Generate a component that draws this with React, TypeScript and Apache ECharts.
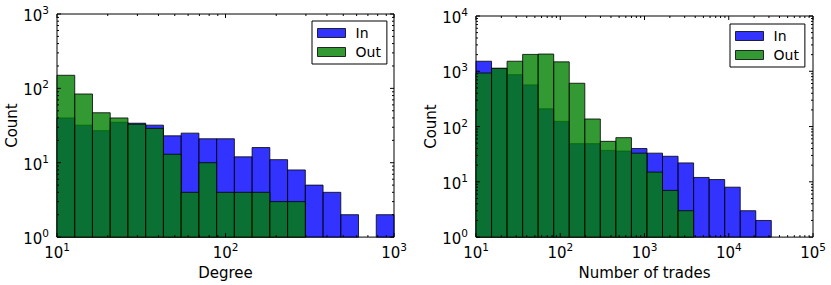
import React, { useEffect, useRef } from 'react';
import * as echarts from 'echarts';

const FONT = 'DejaVu Sans';

// Histogram counts (19 log-spaced bins each)
const degreeIn = [40, 32, 27, 35, 34, 32, 23, 25, 21, 21, 12, 16, 11, 8, 5, 4, 2, 0, 2];
const degreeOut = [150, 84, 47, 40, 33, 29, 13, 4, 10, 4, 4, 4, 3, 3, 0, 0, 0, 0, 0];
const tradesIn = [1520, 1130, 866, 567, 209, 124, 49, 49, 37, 36, 40, 33, 29, 22, 12, 11, 8, 3, 2];
const tradesOut = [930, 1130, 1520, 2020, 2050, 1480, 607, 137, 54, 63, 33, 15, 7, 3, 0, 0, 0, 0, 0];

const degreeBinRange = [10, 1000];
const tradesBinRange = [10, 32000];
const BIN_COUNT = 19;

const degreeXDecades = [10, 100, 1000];
const degreeYDecades = [1, 10, 100, 1000];
const tradesXDecades = [10, 100, 1000, 10000, 100000];
const tradesYDecades = [1, 10, 100, 1000, 10000];

const seriesNames = ['In', 'Out'];
const xTitles = ['Degree', 'Number of trades'];
const yTitle = 'Count';

const BLUE = 'rgba(0,0,255,0.8)';
const GREEN = 'rgba(0,128,0,0.8)';
const EDGE = 'rgba(0,0,0,0.8)';

function logEdges(lo: number, hi: number, n: number) {
  const a = Math.log10(lo), b = Math.log10(hi);
  const e: number[] = [];
  for (let i = 0; i <= n; i++) e.push(Math.pow(10, a + ((b - a) * i) / n));
  return e;
}

function histData(counts: number[], edges: number[]) {
  return counts
    .map((c, i) => [edges[i], edges[i + 1], c])
    .filter((d) => d[2] > 0);
}

function minorTicks(decades: number[]) {
  const out: number[] = [];
  for (let i = 0; i < decades.length - 1; i++) {
    for (let d = 2; d <= 9; d++) out.push(decades[i] * d);
  }
  return out;
}

function tickData(xDec: number[], yDec: number[]) {
  const xMin = xDec[0], yMin = yDec[0];
  const data: number[][] = [];
  xDec.forEach((v) => data.push([v, yMin, 0]));
  minorTicks(xDec).forEach((v) => data.push([v, yMin, 1]));
  yDec.forEach((v) => data.push([xMin, v, 2]));
  minorTicks(yDec).forEach((v) => data.push([xMin, v, 3]));
  return data;
}

const barRender = (fill: string) => (params: any, api: any) => {
  const a = api.coord([api.value(0), api.value(2)]);
  const b = api.coord([api.value(1), 1]);
  return {
    type: 'rect',
    shape: { x: a[0], y: a[1], width: b[0] - a[0], height: b[1] - a[1] },
    style: { fill, stroke: EDGE, lineWidth: 1 },
  };
};

const tickRender = (params: any, api: any) => {
  const cs = params.coordSys;
  const kind = api.value(2);
  const p = api.coord([api.value(0), api.value(1)]);
  const style = { stroke: '#000', lineWidth: 1 };
  const len = kind === 0 || kind === 2 ? 4 : 2;
  if (kind < 2) {
    const bottom = cs.y + cs.height;
    return {
      type: 'group',
      children: [
        { type: 'line', shape: { x1: p[0], y1: bottom, x2: p[0], y2: bottom - len }, style },
        { type: 'line', shape: { x1: p[0], y1: cs.y, x2: p[0], y2: cs.y + len }, style },
      ],
    };
  }
  const right = cs.x + cs.width;
  return {
    type: 'group',
    children: [
      { type: 'line', shape: { x1: cs.x, y1: p[1], x2: cs.x + len, y2: p[1] }, style },
      { type: 'line', shape: { x1: right, y1: p[1], x2: right - len, y2: p[1] }, style },
    ],
  };
};

const rich = {
  b: { fontSize: 15, fontFamily: FONT, color: '#000', lineHeight: 19, verticalAlign: 'bottom' },
  s: { fontSize: 10.5, fontFamily: FONT, color: '#000', lineHeight: 13, verticalAlign: 'top' },
};
const powFormatter = (v: number) => `{b|10}{s|${Math.round(Math.log10(v))}}`;

function xAxisOpt(grid: number, dec: number[], name: string) {
  return {
    type: 'log',
    logBase: 10,
    gridIndex: grid,
    min: dec[0],
    max: dec[dec.length - 1],
    name,
    nameLocation: 'middle',
    nameGap: 23,
    nameTextStyle: { fontFamily: FONT, fontSize: 15, color: '#000' },
    axisLine: { show: false },
    axisTick: { show: false },
    splitLine: { show: false },
    axisLabel: { formatter: powFormatter, rich, margin: 4, showMinLabel: true, showMaxLabel: true },
  };
}

function yAxisOpt(grid: number, dec: number[]) {
  return {
    type: 'log',
    logBase: 10,
    gridIndex: grid,
    min: dec[0],
    max: dec[dec.length - 1],
    name: yTitle,
    nameLocation: 'middle',
    nameGap: 36,
    nameTextStyle: { fontFamily: FONT, fontSize: 15, color: '#000' },
    axisLine: { show: false },
    axisTick: { show: false },
    splitLine: { show: false },
    axisLabel: { formatter: powFormatter, rich, margin: 8, showMinLabel: true, showMaxLabel: true },
  };
}

function legendOpt(left: number, top: number) {
  return {
    orient: 'vertical',
    left,
    top,
    icon: 'rect',
    itemWidth: 28,
    itemHeight: 9,
    itemGap: 5,
    padding: [5, 6, 5, 5],
    borderColor: '#000',
    borderWidth: 1,
    borderRadius: 0,
    backgroundColor: '#fff',
    selectedMode: false,
    formatter: (name: string) => `{g|}{t|${name}}`,
    textStyle: {
      fontFamily: FONT,
      fontSize: 14,
      color: '#000',
      lineHeight: 14,
      rich: {
        g: { width: 5, lineHeight: 14 },
        t: { fontFamily: FONT, fontSize: 14, color: '#000', lineHeight: 14 },
      },
    },
    data: [
      { name: seriesNames[0], itemStyle: { color: BLUE, borderColor: EDGE, borderWidth: 1 } },
      { name: seriesNames[1], itemStyle: { color: GREEN, borderColor: EDGE, borderWidth: 1 } },
    ],
  };
}

export default function App() {
  const ref = useRef<HTMLDivElement>(null);
  useEffect(() => {
    document.body.style.margin = '0';
    if (!ref.current) return;
    const chart = echarts.init(ref.current, null, { renderer: 'svg' });
    const degreeEdges = logEdges(degreeBinRange[0], degreeBinRange[1], BIN_COUNT);
    const tradesEdges = logEdges(tradesBinRange[0], tradesBinRange[1], BIN_COUNT);

    const barSeries = (name: string, fill: string, counts: number[], edges: number[], idx: number) => ({
      type: 'custom',
      name,
      xAxisIndex: idx,
      yAxisIndex: idx,
      renderItem: barRender(fill),
      encode: { x: [0, 1], y: 2 },
      itemStyle: { color: fill, borderColor: EDGE, borderWidth: 1 },
      data: histData(counts, edges),
      z: 2,
    });

    const tickSeries = (xDec: number[], yDec: number[], idx: number) => ({
      type: 'custom',
      name: 'ticks' + idx,
      xAxisIndex: idx,
      yAxisIndex: idx,
      renderItem: tickRender,
      encode: { x: 0, y: 1 },
      data: tickData(xDec, yDec),
      clip: false,
      silent: true,
      z: 5,
    });

    chart.setOption({
      animation: false,
      textStyle: { fontFamily: FONT },
      grid: [
        { left: 57, top: 14, width: 337, height: 225, show: true, borderColor: '#000', borderWidth: 1, backgroundColor: 'transparent' },
        { left: 476, top: 16, width: 337, height: 225, show: true, borderColor: '#000', borderWidth: 1, backgroundColor: 'transparent' },
      ],
      legend: [legendOpt(312, 21), legendOpt(730, 24)],
      xAxis: [xAxisOpt(0, degreeXDecades, xTitles[0]), xAxisOpt(1, tradesXDecades, xTitles[1])],
      yAxis: [yAxisOpt(0, degreeYDecades), yAxisOpt(1, tradesYDecades)],
      series: [
        barSeries(seriesNames[0], BLUE, degreeIn, degreeEdges, 0),
        barSeries(seriesNames[1], GREEN, degreeOut, degreeEdges, 0),
        tickSeries(degreeXDecades, degreeYDecades, 0),
        barSeries(seriesNames[0], BLUE, tradesIn, tradesEdges, 1),
        barSeries(seriesNames[1], GREEN, tradesOut, tradesEdges, 1),
        tickSeries(tradesXDecades, tradesYDecades, 1),
      ],
    });
    return () => chart.dispose();
  }, []);
  return <div ref={ref} style={{ width: 831, height: 285 }} />;
}
